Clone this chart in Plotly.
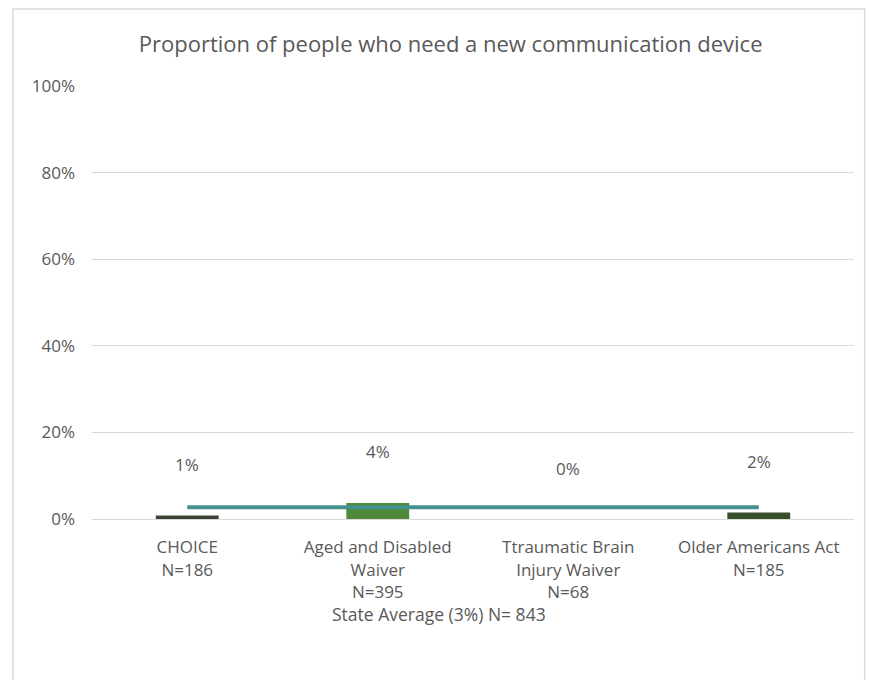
import plotly.graph_objects as go

categories = ["CHOICE<br>N=186", "Aged and Disabled<br>Waiver<br>N=395",
              "Ttraumatic Brain<br>Injury Waiver<br>N=68", "Older Americans Act<br>N=185"]
values = [0.8, 3.7, 0.0, 1.5]
value_labels = ["1%", "4%", "0%", "2%"]
bar_colors = ["#3a4432", "#4f8a3a", "#4a7a33", "#37502a"]
state_avg = [2.7, 2.7, 2.7, 2.7]
y_ticks = [0, 20, 40, 60, 80, 100]
y_tick_labels = ["0%", "20%", "40%", "60%", "80%", "100%"]

FONT = "Open Sans, Liberation Sans, Arial, sans-serif"
GRAY = "#595959"

fig = go.Figure()
fig.add_trace(go.Bar(x=categories, y=values, marker_color=bar_colors,
                     marker_line_width=0, width=0.33, showlegend=False,
                     hoverinfo="skip"))
fig.add_trace(go.Scatter(x=categories, y=state_avg, mode="lines",
                         line=dict(color="#44908e", width=4), showlegend=False,
                         hoverinfo="skip"))

for c, v, t in zip(categories, values, value_labels):
    fig.add_annotation(x=c, y=v, text=t, showarrow=False, yanchor="middle",
                       yshift=51, font=dict(size=17, color=GRAY, family=FONT))

fig.add_annotation(xref="paper", yref="paper", x=0.455, y=-0.219, text="State Average (3%) N= 843",
                   showarrow=False, xanchor="center", yanchor="middle",
                   font=dict(size=17.5, color=GRAY, family=FONT))

fig.add_shape(type="rect", xref="paper", yref="paper", x0=-0.1037, x1=1.014, y0=-0.5, y1=1.178,
              line=dict(color="#d9d9d9", width=1.5), fillcolor="rgba(0,0,0,0)", layer="below")

fig.update_layout(
    width=880, height=680,
    margin=dict(l=84, r=34, t=78, b=169),
    paper_bgcolor="white", plot_bgcolor="white",
    title=dict(text="Proportion of people who need a new communication device",
               x=0.503, xanchor="center", y=0.947, yanchor="middle",
               font=dict(size=22, color=GRAY, family=FONT)),
    xaxis=dict(showline=True, linecolor="#d9d9d9", linewidth=1, ticks="",
               ticklabelstandoff=13,
               tickfont=dict(size=17, color=GRAY, family=FONT), showgrid=False),
    yaxis=dict(range=[0, 100], tickvals=y_ticks, ticktext=y_tick_labels,
               showgrid=True, gridcolor="#d9d9d9", gridwidth=1, zeroline=False,
               ticks="", ticklabelstandoff=16,
               tickfont=dict(size=17, color=GRAY, family=FONT)),
    bargap=0.67,
)

fig.write_html("out.html")
